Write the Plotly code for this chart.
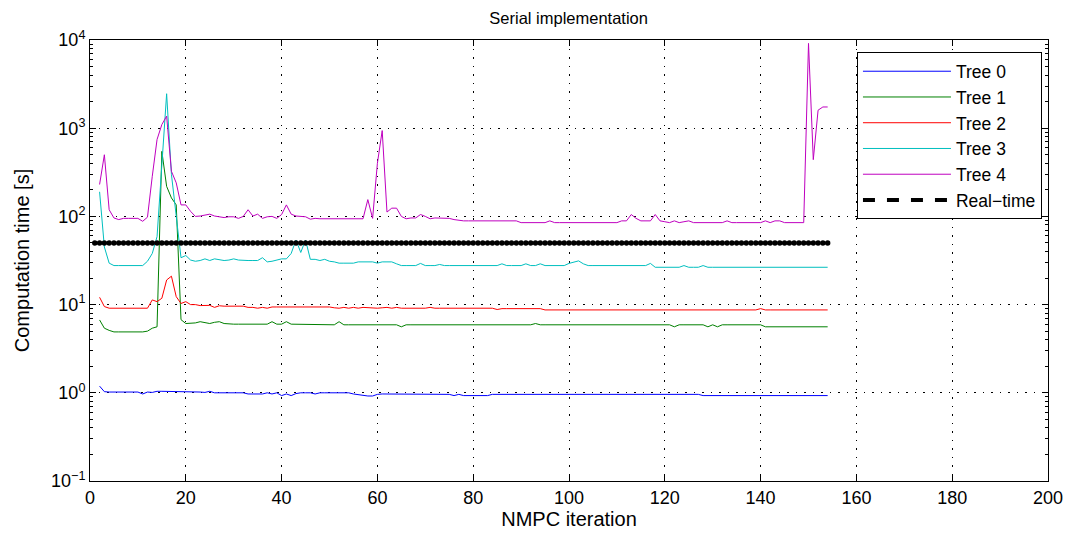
import plotly.graph_objects as go

# ---------------- data ----------------
iterations = list(range(2, 155))          # NMPC iterations 2..154
rt_iterations = list(range(1, 155))       # real-time reference iterations
realtime_limit = 50.0                     # real-time bound [s]

tree0 = [
    1.19, 1.03, 1.02, 1.02, 1.02, 1.02, 1.02, 1.02, 1.02, 0.97,
    1.02, 1.01, 1.04, 1.04, 1.04, 1.04, 1.04, 1.04, 1.04, 1.04,
    1.04, 1.02, 1.01, 1.04, 1.00, 1.00, 1.00, 1.00, 1.00, 1.00,
    1.00, 0.97, 0.97, 0.97, 0.97, 1.00, 0.97, 1.00, 0.93, 0.97,
    0.93, 0.98, 1.00, 1.00, 1.00, 0.97, 1.00, 1.00, 1.00, 1.00,
    1.00, 1.00, 1.00, 0.97, 0.95, 0.93, 0.92, 0.92, 0.96, 0.97,
    0.97, 0.97, 0.97, 0.97, 0.97, 0.97, 0.97, 0.97, 0.97, 0.97,
    0.97, 0.96, 0.96, 0.96, 0.93, 0.96, 0.93, 0.93, 0.93, 0.93,
    0.93, 0.93, 0.96, 0.96, 0.96, 0.96, 0.96, 0.96, 0.96, 0.96,
    0.96, 0.96, 0.96, 0.96, 0.96, 0.96, 0.96, 0.96, 0.96, 0.96,
    0.96, 0.96, 0.96, 0.96, 0.96, 0.96, 0.96, 0.96, 0.96, 0.96,
    0.96, 0.96, 0.96, 0.96, 0.96, 0.96, 0.96, 0.96, 0.96, 0.96,
    0.96, 0.96, 0.96, 0.96, 0.96, 0.96, 0.93, 0.93, 0.93, 0.93,
    0.93, 0.93, 0.93, 0.93, 0.93, 0.93, 0.93, 0.93, 0.93, 0.93,
    0.93, 0.93, 0.93, 0.93, 0.93, 0.93, 0.93, 0.93, 0.93, 0.93,
    0.93, 0.93, 0.93,
]

tree1 = [
    6.7, 5.4, 5.1, 4.9, 4.9, 4.9, 4.9, 4.9, 4.9, 4.9,
    5.0, 5.4, 5.6, 546, 219, 162, 135, 6.75, 6.1, 6.1,
    6.2, 6.4, 6.2, 6.1, 6.3, 6.4, 6.1, 6.0, 6.0, 6.0,
    6.0, 6.0, 6.0, 6.0, 6.0, 6.0, 6.4, 6.0, 6.0, 6.4,
    6.0, 6.0, 6.0, 6.0, 6.0, 6.0, 6.0, 5.9, 5.9, 5.9,
    6.4, 5.9, 5.9, 5.9, 5.9, 5.9, 5.9, 5.9, 5.9, 5.9,
    5.9, 5.9, 5.9, 5.6, 5.9, 5.9, 5.9, 5.9, 5.9, 5.9,
    5.9, 5.9, 5.9, 5.9, 5.9, 5.9, 5.9, 5.9, 5.9, 5.9,
    5.9, 5.9, 5.9, 5.9, 5.9, 5.9, 5.9, 5.9, 5.9, 5.9,
    5.9, 6.1, 5.9, 5.9, 5.9, 5.9, 5.9, 5.9, 5.9, 5.9,
    5.9, 5.9, 5.9, 5.9, 5.9, 5.9, 5.9, 5.9, 5.9, 5.9,
    5.9, 5.9, 5.9, 5.9, 5.9, 5.9, 5.9, 5.9, 5.9, 5.9,
    5.6, 5.9, 5.9, 5.9, 5.9, 5.9, 5.9, 5.6, 5.9, 5.6,
    5.9, 5.9, 5.9, 5.9, 5.9, 5.9, 5.9, 5.9, 5.9, 5.6,
    5.6, 5.6, 5.6, 5.6, 5.6, 5.6, 5.6, 5.6, 5.6, 5.6,
    5.6, 5.6, 5.6,
]

tree2 = [
    12.1, 9.5, 9.1, 9.1, 9.1, 9.1, 9.1, 9.1, 9.1, 9.1,
    9.1, 11.3, 10.8, 11.8, 19, 21, 12.3, 10.3, 10.8, 10.0,
    10.0, 9.75, 9.75, 9.8, 9.3, 9.7, 9.6, 9.6, 9.6, 9.6,
    9.6, 9.3, 9.3, 9.1, 9.3, 9.1, 9.4, 9.4, 9.4, 9.4,
    9.4, 9.4, 9.4, 9.4, 9.4, 9.4, 9.4, 9.4, 9.4, 9.2,
    9.1, 9.3, 9.1, 9.3, 9.1, 9.3, 9.2, 9.1, 9.1, 9.2,
    9.3, 9.1, 9.3, 9.1, 9.1, 9.1, 9.1, 9.1, 9.1, 9.3,
    9.1, 9.1, 9.1, 9.1, 9.1, 9.1, 9.1, 9.1, 9.1, 9.1,
    9.1, 9.1, 9.1, 8.8, 9.0, 9.0, 9.0, 9.0, 9.0, 9.0,
    9.0, 9.0, 9.0, 8.7, 8.7, 8.7, 8.7, 8.7, 8.7, 8.7,
    8.7, 8.7, 8.7, 8.7, 8.7, 8.7, 8.7, 8.7, 8.7, 8.7,
    8.7, 8.7, 8.7, 8.7, 8.7, 8.7, 8.7, 8.7, 8.7, 8.7,
    8.7, 8.7, 8.7, 8.7, 8.7, 8.7, 8.7, 8.7, 8.7, 8.7,
    8.7, 8.7, 8.7, 8.7, 8.7, 8.7, 8.7, 8.7, 9.0, 8.7,
    8.7, 8.7, 8.7, 8.7, 8.7, 8.7, 8.7, 8.7, 8.7, 8.7,
    8.7, 8.7, 8.7,
]

tree3 = [
    190, 45, 29.5, 27.7, 27.7, 27.7, 27.7, 27.7, 27.7, 27.7,
    31, 38, 59, 400, 2460, 300, 100, 34, 36, 32,
    31, 31.6, 33, 31.6, 33, 32, 31.6, 32, 33, 32,
    31.6, 31.6, 31.6, 31.6, 34, 30.5, 31, 32, 33, 33,
    38, 54, 39, 54, 32.6, 32.6, 31.6, 32.6, 31, 30.5,
    29.5, 29.5, 29.5, 29.5, 30.5, 30.5, 30.5, 30.5, 29.5, 30.5,
    30.5, 30.5, 29, 27.7, 27.7, 27.7, 27.7, 29.3, 27.7, 27.7,
    27.7, 28.5, 27.7, 27.7, 27.7, 27.7, 27.7, 27.7, 27.7, 27.7,
    27.7, 27.7, 27.7, 27.7, 29, 27.7, 27.7, 27.7, 27.7, 29,
    27.7, 27.7, 29, 27.7, 27.7, 27.7, 27.7, 27.7, 29.3, 30,
    31.3, 29, 27.7, 27.7, 27.7, 27.7, 27.7, 27.7, 27.7, 27.7,
    27.7, 27.7, 27.7, 27.7, 27.7, 29.3, 26.5, 26.5, 26.5, 26.5,
    26.5, 26.5, 27.7, 26.5, 26.5, 26.5, 27.7, 26.5, 26.5, 26.5,
    26.5, 26.5, 26.5, 26.5, 26.5, 26.5, 26.5, 26.5, 26.5, 26.5,
    26.5, 26.5, 26.5, 26.5, 26.5, 26.5, 26.5, 26.5, 26.5, 26.5,
    26.5, 26.5, 26.5,
]

tree4 = [
    230, 500, 119, 96, 92, 95, 95, 95, 95, 88,
    98, 285, 745, 1100, 1370, 325, 240, 135, 135, 114,
    100, 101, 103, 106, 101, 99, 97, 99, 99, 95,
    100, 119, 101, 106, 95, 99, 100, 95, 105, 135,
    106, 101, 100, 99, 93, 95, 94, 94, 94, 94,
    94, 94, 94, 94, 94, 94, 155, 95, 400, 940,
    112, 124, 124, 100, 94, 96, 96, 105, 100, 94,
    96, 96, 96, 95, 92, 90, 89, 89, 89, 89,
    89, 89, 89, 89, 89, 89, 89, 89, 85, 85,
    85, 85, 85, 85, 89, 85, 85, 85, 85, 85,
    85, 85, 85, 85, 85, 85, 85, 85, 85, 89,
    89, 105, 95, 89, 89, 89, 105, 89, 87, 85,
    89, 85, 87, 89, 85, 85, 85, 85, 85, 85,
    85, 89, 85, 85, 85, 85, 85, 85, 85, 89,
    85, 89, 89, 85, 85, 85, 85, 85, 9150, 440,
    1600, 1740, 1740,
]

series_names = ["Tree 0", "Tree 1", "Tree 2", "Tree 3", "Tree 4"]
series_values = [tree0, tree1, tree2, tree3, tree4]
series_colors = ["#0000ff", "#008000", "#ff0000", "#00bfbf", "#bf00bf"]

x_ticks = [0, 20, 40, 60, 80, 100, 120, 140, 160, 180, 200]
y_ticks = [0.1, 1, 10, 100, 1000, 10000]
y_ticktext = ["10<sup>\u22121</sup>", "10<sup>0</sup>", "10<sup>1</sup>",
              "10<sup>2</sup>", "10<sup>3</sup>", "10<sup>4</sup>"]
y_minor = [m * d for d in [0.1, 1, 10, 100, 1000] for m in range(2, 10)]

FONT = "Liberation Sans, Arial, Helvetica, sans-serif"

# ---------------- figure ----------------
fig = go.Figure()

for name, vals, col in zip(series_names, series_values, series_colors):
    fig.add_trace(go.Scatter(
        x=iterations, y=vals, mode="lines", name=name,
        line=dict(color=col, width=1),
    ))

# real-time bound drawn as dense dots
fig.add_trace(go.Scatter(
    x=rt_iterations, y=[realtime_limit for _ in rt_iterations],
    mode="markers", showlegend=False, name="Real-time",
    marker=dict(color="black", size=5.5, symbol="circle"),
))
# legend entry for real-time (dashed)
fig.add_trace(go.Scatter(
    x=[None], y=[None], mode="lines", name="Real\u2212time",
    line=dict(color="black", width=4, dash="dash"),
))

axis_common = dict(
    showline=True, linecolor="black", linewidth=1, mirror="ticks",
    ticks="inside", tickcolor="black", ticklen=6,
    showgrid=True, gridcolor="black", gridwidth=1, griddash="1.5px,7px",
    zeroline=False,
    tickfont=dict(family=FONT, size=18, color="black"),
)

fig.update_xaxes(
    range=[0, 200], tickvals=x_ticks,
    title=dict(text="NMPC iteration", font=dict(family=FONT, size=20, color="black"), standoff=5),
    **axis_common,
)
fig.update_yaxes(
    type="log", range=[-1, 4], tickmode="array", tickvals=y_ticks, ticktext=y_ticktext,
    minor=dict(ticks="inside", ticklen=3, tickmode="array", tickvals=y_minor,
               tickcolor="black", showgrid=False),
    title=dict(text="Computation time [s]", font=dict(family=FONT, size=20, color="black"), standoff=16),
    **axis_common,
)

fig.update_layout(
    width=1077, height=538,
    margin=dict(l=90, r=29, t=40, b=57),
    paper_bgcolor="white", plot_bgcolor="white",
    font=dict(family=FONT, color="black"),
    title=dict(text="Serial implementation", x=0.528, xanchor="center",
               y=0.966, yanchor="middle",
               font=dict(family=FONT, size=16.5, color="black")),
    legend=dict(
        x=0.9937, y=0.972, xanchor="right", yanchor="top",
        bgcolor="white", bordercolor="black", borderwidth=1,
        font=dict(family=FONT, size=17.5, color="black"),
        itemwidth=88, tracegroupgap=0,
    ),
    showlegend=True,
)

fig.write_html("out.html")
